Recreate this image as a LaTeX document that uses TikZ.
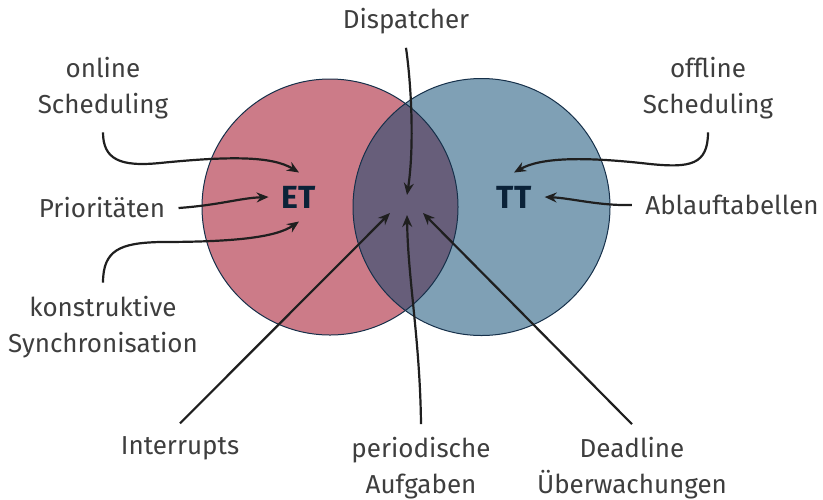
\documentclass[tikz,border=0pt]{standalone}
\usepackage{fontspec}
\setmainfont{Fira Sans}
\usetikzlibrary{arrows.meta}
\definecolor{etRot}{HTML}{CC7B88}
\definecolor{ttBlau}{HTML}{7FA0B5}
\definecolor{schnitt}{HTML}{675E7A}
\definecolor{rand}{HTML}{16304A}
\definecolor{kernC}{HTML}{0B2238}
\definecolor{grauT}{HTML}{3E3E3E}
\tikzset{
  lbl/.style={align=center, inner sep=6.5pt, text=grauT, font=\fontsize{13}{18}\selectfont},
  kern/.style={inner sep=6.5pt, text=kernC, font=\fontsize{16}{19}\selectfont\bfseries},
  kreis/.style={draw=rand, line width=0.5pt},
  arr/.style={-{Stealth[length=6pt, width=5pt, inset=2pt]}, line width=1.1pt, draw=black!88},
}

\begin{document}
\begin{tikzpicture}[x=0.5pt, y=-0.5pt]
\useasboundingbox (0,0) rectangle (823,499);
% Kreise ET / TT
\fill[etRot] (330,207) circle[radius=64pt];
\fill[ttBlau] (481.5,207) circle[radius=64.25pt];
\begin{scope}
  \clip (330,207) circle[radius=64pt];
  \fill[schnitt] (481.5,207) circle[radius=64.25pt];
\end{scope}
\draw[kreis] (330,207) circle[radius=64pt];
\draw[kreis] (481.5,207) circle[radius=64.25pt];

\node[kern] (et) at (299,197) {ET};
\node[kern] (tt) at (514,197) {TT};
\coordinate (hub) at (406,205);

% Beschriftungen
\node[lbl] (disp) at (406,21.5) {Dispatcher};
\node[lbl] (onl) at (103,88) {online\\Scheduling};
\node[lbl] (offl) at (708,88) {offline\\Scheduling};
\node[lbl] (prio) at (102,208) {Prioritäten};
\node[lbl] (ablauf) at (732,205) {Ablauftabellen};
\node[lbl] (konst) at (103,327) {konstruktive\\Synchronisation};
\node[lbl] (intr) at (180,448.5) {Interrupts};
\node[lbl] (period) at (421,468.5) {periodische\\Aufgaben};
\node[lbl] (dead) at (632,468.5) {Deadline\\Überwachungen};

% Pfeile
\draw[arr] (onl.south) .. controls +(0,27) and (120,167) .. (160,163)
  .. controls (230,156) and (272,156) .. (et.north);
\draw[arr] (prio.east) .. controls (220,205) and (240,198) .. (et.west);
\draw[arr] (konst.north) .. controls (103,250) and (120,243) .. (160,242)
  .. controls (230,242) and (275,238) .. (et.south);
\draw[arr] (offl.south) .. controls (708,165) and (690,168) .. (650,164)
  .. controls (580,156) and (540,158) .. (tt.north);
\draw[arr] (ablauf.west) .. controls (600,206) and (570,198) .. (tt.east);
\draw[arr] (disp.south) .. controls (412,90) and (414,150) .. ([shift={(1,-10)}]hub);
\draw[arr] (intr.north) -- ([shift={(-16,8)}]hub);
\draw[arr] (period.north) .. controls (420,340) and (408,280) .. ([shift={(1,10)}]hub);
\draw[arr] (dead.north) -- ([shift={(17,8)}]hub);
\end{tikzpicture}
\end{document}
